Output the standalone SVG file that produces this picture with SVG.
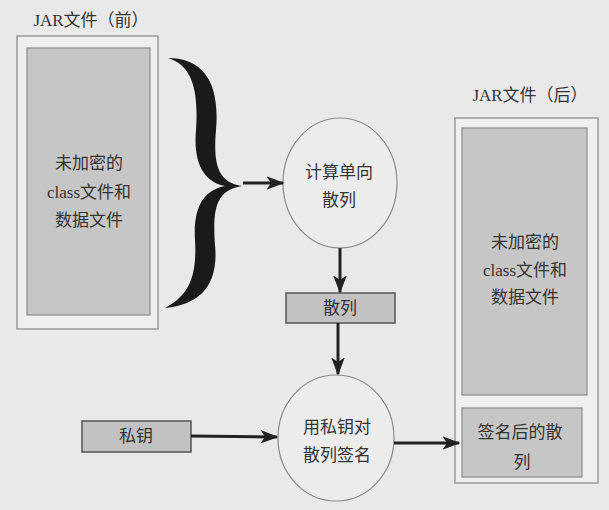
<svg xmlns="http://www.w3.org/2000/svg" width="609" height="510" viewBox="0 0 609 510">
<defs>
<marker id="ah" viewBox="0 0 12 10" refX="11" refY="5" markerWidth="6" markerHeight="5" orient="auto" markerUnits="strokeWidth">
<path d="M0,0.5 L12,5 L0,9.5 L3,5 Z" fill="#222"/>
</marker>
</defs>
<style>
.bg{fill:#e9e9e9}
.outer{fill:#efefef;stroke:#9a9a9a;stroke-width:1.5}
.inner{fill:#c6c6c6;stroke:#8a8a8a;stroke-width:1.2}
.box{fill:#c2c2c2;stroke:#555;stroke-width:1.5}
.ell{fill:#ececec;stroke:#8a8a8a;stroke-width:1.2}
.t{font-family:"Liberation Serif","Noto Sans CJK SC",serif;font-size:17px;fill:#333;text-anchor:middle;dominant-baseline:central}
.edge{stroke:#222;stroke-width:3;fill:none;marker-end:url(#ah)}
</style>
<rect class="bg" x="0" y="0" width="609" height="510"/>

<g id="jar-before">
<text class="t" x="91" y="20">JAR文件（前）</text>
<rect class="outer" x="17" y="36" width="141" height="293"/>
<rect class="inner" x="27" y="48" width="123" height="267"/>
<text class="t" x="89" y="163">未加密的</text>
<text class="t" x="89" y="192">class文件和</text>
<text class="t" x="89" y="220">数据文件</text>
</g>

<g id="brace">
<path d="M168,58 C205,58 220,85 216,130 C213,165 218,182 242,186 C218,190 212,205 215,245 C219,285 200,305 165,308 C190,295 197,275 195,240 C193,205 205,190 225,186 C205,182 193,165 196,130 C199,85 190,65 168,58 Z" fill="#1a1a1a"/>
</g>

<g id="hash-compute">
<ellipse class="ell" cx="340" cy="183" rx="57" ry="65"/>
<text class="t" x="339" y="172">计算单向</text>
<text class="t" x="339" y="200">散列</text>
</g>

<g id="hash">
<rect class="box" x="286" y="293" width="109" height="30"/>
<text class="t" x="340" y="308">散列</text>
</g>

<g id="sign">
<ellipse class="ell" cx="336" cy="438" rx="58" ry="63"/>
<text class="t" x="337" y="427">用私钥对</text>
<text class="t" x="337" y="455">散列签名</text>
</g>

<g id="private-key">
<rect class="box" x="82" y="421" width="109" height="31"/>
<text class="t" x="136" y="436">私钥</text>
</g>

<g id="jar-after">
<text class="t" x="530" y="95">JAR文件（后）</text>
<rect class="outer" x="455" y="118" width="143" height="365"/>
<rect class="inner" x="462" y="128" width="125" height="267"/>
<text class="t" x="525" y="242">未加密的</text>
<text class="t" x="525" y="270">class文件和</text>
<text class="t" x="525" y="297">数据文件</text>
<rect class="inner" x="462" y="408" width="120" height="69"/>
<text class="t" x="520" y="432">签名后的散</text>
<text class="t" x="522" y="462">列</text>
</g>

<g id="connectors">
<line class="edge" x1="243" y1="183" x2="283" y2="183"/>
<line class="edge" x1="340" y1="248" x2="340" y2="292"/>
<line class="edge" x1="338" y1="323" x2="338" y2="374"/>
<line class="edge" x1="191" y1="436" x2="277" y2="437"/>
<line class="edge" x1="394" y1="443" x2="459" y2="443"/>
</g>
</svg>
